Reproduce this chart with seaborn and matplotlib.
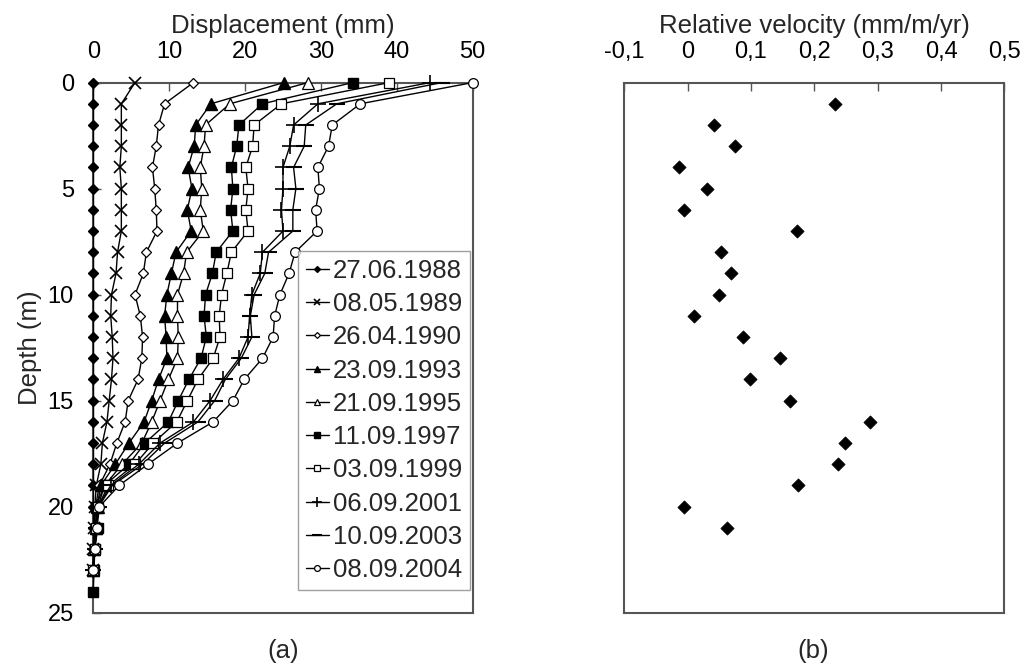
import matplotlib
matplotlib.use("Agg")
import matplotlib.pyplot as plt
import matplotlib.ticker as mticker
import seaborn as sns
import pandas as pd
import numpy as np

# ---------------- data ----------------
dates = ["27.06.1988", "08.05.1989", "26.04.1990", "23.09.1993", "21.09.1995",
         "11.09.1997", "03.09.1999", "06.09.2001", "10.09.2003", "08.09.2004"]

disp_1988 = [0.0] * 24
disp_1989 = [5.5, 3.7, 3.7, 3.7, 3.5, 3.7, 3.7, 3.7, 3.2, 3.0, 2.4, 2.3, 2.5, 2.6, 2.4, 2.1,
             1.8, 1.2, 1.0, 0.4, 0.2, 0.1, 0.0, 0.0]
disp_1990 = [13.2, 9.4, 8.6, 8.3, 7.8, 8.1, 8.3, 8.4, 7.0, 6.6, 5.5, 6.2, 6.5, 6.4, 5.9, 4.6,
             4.2, 3.1, 2.2, 0.8, 0.3, 0.2, 0.1, 0.0]
disp_1993 = [25.1, 15.5, 13.5, 13.3, 12.5, 13.0, 12.4, 12.9, 10.9, 10.3, 9.7, 9.4, 9.6, 9.7, 8.6, 7.7,
             6.7, 4.7, 2.9, 1.0, 0.5, 0.3, 0.1, 0.0]
disp_1995 = [28.3, 18.0, 14.8, 14.6, 14.1, 14.3, 14.1, 14.5, 12.3, 11.9, 11.1, 11.1, 11.2, 11.1, 9.9, 8.8,
             7.7, 6.4, 3.8, 1.5, 0.6, 0.3, 0.1, 0.0]
disp_1997 = [34.2, 22.3, 19.2, 18.9, 18.2, 18.4, 18.1, 18.4, 16.2, 15.7, 14.8, 14.6, 14.9, 14.2, 12.6, 11.2,
             9.9, 6.8, 4.7, 1.5, 0.3, 0.6, 0.2, 0.1, 0.0]
disp_1999 = [39.0, 24.8, 21.2, 21.0, 20.1, 20.4, 20.1, 20.4, 18.2, 17.6, 16.9, 16.6, 16.7, 15.8, 13.8, 12.4,
             11.0, 7.9, 5.5, 2.0, 0.6, 0.4, 0.2, 0.0]
disp_2001 = [44.4, 29.6, 26.4, 25.9, 25.0, 25.0, 24.8, 25.0, 22.3, 22.0, 20.9, 20.6, 20.4, 19.2, 17.1, 15.4,
             13.2, 8.8, 6.0, 2.3, 0.6, 0.4, 0.2, 0.0]
disp_2003 = [45.9, 32.1, 28.0, 27.8, 26.4, 26.7, 26.3, 26.3, 23.1, 22.6, 21.2, 20.7, 20.9, 19.5, 17.4, 16.0,
             13.8, 9.4, 6.5, 2.5, 0.7, 0.4, 0.2, 0.0]
disp_2004 = [50.0, 35.2, 31.5, 31.0, 29.6, 29.8, 29.3, 29.5, 26.6, 25.8, 24.6, 23.9, 23.7, 22.3, 19.9, 18.4,
             15.8, 11.1, 7.2, 3.4, 0.8, 0.5, 0.2, 0.0]

series = [disp_1988, disp_1989, disp_1990, disp_1993, disp_1995,
          disp_1997, disp_1999, disp_2001, disp_2003, disp_2004]

vel_depth = list(range(1, 22))
velocity = [0.232, 0.041, 0.074, -0.013, 0.030, -0.005, 0.173, 0.053, 0.068, 0.050, 0.010,
            0.087, 0.145, 0.099, 0.161, 0.288, 0.248, 0.238, 0.174, -0.006, 0.062]

disp_ticks = [0, 10, 20, 30, 40, 50]
depth_ticks = [0, 5, 10, 15, 20, 25]
vel_ticks = [-0.1, 0.0, 0.1, 0.2, 0.3, 0.4, 0.5]

# ---------------- style ----------------
sns.set_theme(style="white")
plt.rcParams['font.family'] = ['Liberation Sans', 'DejaVu Sans']
FS_LAB = 18.5
FS_TICK = 17
FS_LEG = 18.5
SPINE = "#555555"

styles = [
    dict(marker="D", markersize=5, mfc="black", mec="black"),
    dict(marker="x", markersize=8, mfc="black", mec="black", mew=1.2),
    dict(marker="D", markersize=5, mfc="white", mec="black", mew=0.9),
    dict(marker="^", markersize=8, mfc="black", mec="black"),
    dict(marker="^", markersize=8, mfc="white", mec="black", mew=0.9),
    dict(marker="s", markersize=7, mfc="black", mec="black"),
    dict(marker="s", markersize=7, mfc="white", mec="black", mew=0.9),
    dict(marker="+", markersize=11, mfc="black", mec="black", mew=1.2),
    dict(marker="_", markersize=11, mfc="black", mec="black", mew=1.5),
    dict(marker="o", markersize=7, mfc="white", mec="black", mew=0.9),
]

fig = plt.figure(figsize=(10.26, 6.66), dpi=100)
axA = fig.add_axes([0.0909, 0.080, 0.3698, 0.796])
axB = fig.add_axes([0.6085, 0.080, 0.3704, 0.796])

# ---------------- panel (a) ----------------
for lab, vals, st in zip(dates, series, styles):
    df = pd.DataFrame({"disp": vals, "depth": np.arange(len(vals))})
    sns.lineplot(data=df, x="disp", y="depth", sort=False, estimator=None, ax=axA,
                 color="black", linewidth=1.0, label=lab, marker=st["marker"],
                 markersize=st["markersize"], markerfacecolor=st["mfc"],
                 markeredgecolor=st["mec"], markeredgewidth=st.get("mew", 1.0),
                 clip_on=False, zorder=3)

axA.set_xlim(0, 50)
axA.set_ylim(25, 0)
axA.xaxis.set_label_position("top")
axA.xaxis.tick_top()
axA.set_xticks(disp_ticks)
axA.set_yticks(depth_ticks)
axA.set_xlabel("Displacement (mm)", fontsize=FS_LAB, labelpad=6)
axA.set_ylabel("Depth (m)", fontsize=FS_LAB, labelpad=4)
axA.tick_params(axis="x", direction="in", length=6, width=1, colors=SPINE,
                labelcolor="black", labelsize=FS_TICK, pad=14, top=True, bottom=False)
axA.tick_params(axis="y", direction="in", length=6, width=1, colors=SPINE,
                labelcolor="black", labelsize=FS_TICK, pad=14, left=True)
for s in axA.spines.values():
    s.set_color(SPINE)
    s.set_linewidth(1.5)

leg = axA.legend(loc="lower left", bbox_to_anchor=(0.54, 0.043), borderaxespad=0,
                 fontsize=FS_LEG, frameon=True, fancybox=False, edgecolor="#888888",
                 handlelength=0.9, handletextpad=0.15, labelspacing=0.36,
                 borderpad=0.3, markerscale=0.6)
leg.get_frame().set_linewidth(1.0)
leg.set_zorder(5)

# ---------------- panel (b) ----------------
dfv = pd.DataFrame({"vel": velocity, "depth": vel_depth})
sns.scatterplot(data=dfv, x="vel", y="depth", marker="D", s=45, color="black",
                edgecolor="black", ax=axB, zorder=3)
axB.set_xlim(-0.1, 0.5)
axB.set_ylim(25, 0)
axB.xaxis.set_label_position("top")
axB.xaxis.tick_top()
axB.set_xticks(vel_ticks)
axB.xaxis.set_major_formatter(mticker.FuncFormatter(
    lambda v, p: "0" if abs(v) < 1e-9 else f"{v:.1f}".replace(".", ",")))
axB.set_yticks([])
axB.set_ylabel("")
axB.set_xlabel("Relative velocity (mm/m/yr)", fontsize=FS_LAB, labelpad=6)
axB.tick_params(axis="x", direction="in", length=6, width=1, colors=SPINE,
                labelcolor="black", labelsize=FS_TICK, pad=14, top=True, bottom=False)
for s in axB.spines.values():
    s.set_color(SPINE)
    s.set_linewidth(1.5)

fig.text(0.2758, 0.022, "(a)", fontsize=FS_LAB, ha="center", va="center")
fig.text(0.7924, 0.022, "(b)", fontsize=FS_LAB, ha="center", va="center")

fig.savefig("out.png", dpi=100)
